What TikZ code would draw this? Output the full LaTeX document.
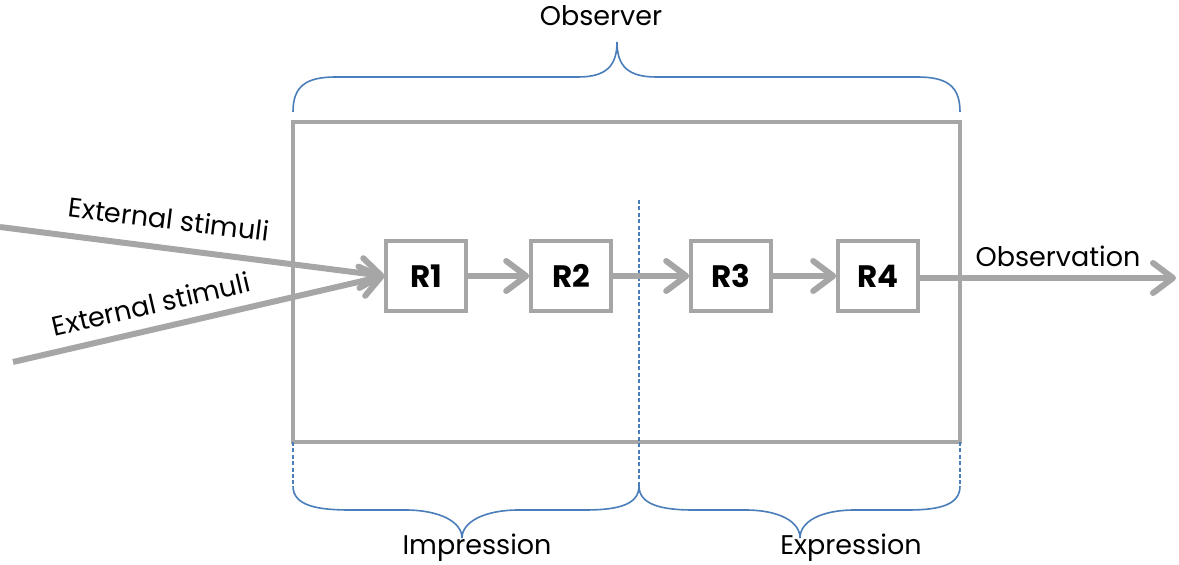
\documentclass[tikz,border=0pt]{standalone}
\usepackage{fontspec}
\setmainfont{Poppins}
\usepackage{tikz}
\usetikzlibrary{arrows.meta}
\definecolor{boxgray}{HTML}{A6A6A6}
\definecolor{braceblue}{HTML}{4A7EBB}
\pgfdeclarelayer{edgelayer}
\pgfdeclarelayer{nodelayer}
\pgfsetlayers{edgelayer,nodelayer,main}

\begin{document}
\begin{tikzpicture}[x=0.5pt,y=-0.5pt,
		reg/.style={draw=boxgray,line width=1.8pt,fill=white,minimum width=40pt,minimum height=35pt,inner sep=0pt,font=\fontsize{15.5}{18}\selectfont\bfseries},
		lbl/.style={font=\fontsize{13.5}{16}\selectfont,inner sep=1pt},
		flow/.style={draw=boxgray,line width=3pt,-{Straight Barb[length=10pt,width=15pt,round]}},
		brace/.style={draw=braceblue,line width=0.8pt},
		guide/.style={draw=braceblue,line width=0.6pt,dash pattern=on 2pt off 1.2pt}]
	\useasboundingbox (0,0) rectangle (1179,565);
	\begin{pgfonlayer}{nodelayer}
		\node[reg] (r1) at (426,276) {R1};
		\node[reg] (r2) at (571,276) {R2};
		\node[reg] (r3) at (731,276) {R3};
		\node[reg] (r4) at (878,276) {R4};
		\coordinate (s1) at (0,227);
		\coordinate (s2) at (13,362);
		\coordinate (obs) at (1176,278);
		\node[lbl] (observer) at (601,16) {Observer};
		\node[lbl] (impression) at (477,548) {Impression};
		\node[lbl] (expression) at (851,548) {Expression};
		\node[lbl] (observation) at (1058,256) {Observation};
		\node[lbl,rotate=-7] (ext1) at (169,219) {External stimuli};
		\node[lbl,rotate=13] (ext2) at (151,304) {External stimuli};
	\end{pgfonlayer}
	\begin{pgfonlayer}{edgelayer}
		\draw[draw=boxgray,line width=2pt] (293,122) rectangle (960,442);
		\draw[guide] (293,442) -- (293,486);
		\draw[guide] (639,200) -- (639,486);
		\draw[guide] (960,442) -- (960,486);
		\draw[brace] (293,112) .. controls (293,86) and (306,77) .. (336,77) -- (578,77) .. controls (606,77) and (617,66) .. (617,42) .. controls (617,66) and (628,77) .. (656,77) -- (917,77) .. controls (947,77) and (960,86) .. (960,112);
		\draw[brace] (293,486) .. controls (293,506) and (318,510) .. (350,510) -- (405,510) .. controls (440,510) and (462,522) .. (462,538) .. controls (462,522) and (484,510) .. (519,510) -- (585,510) .. controls (620,510) and (639,504) .. (639,486);
		\draw[brace] (639,486) .. controls (639,504) and (660,510) .. (693,510) -- (745,510) .. controls (780,510) and (800,522) .. (800,538) .. controls (800,522) and (820,510) .. (855,510) -- (908,510) .. controls (942,510) and (960,504) .. (960,486);
	\end{pgfonlayer}
	\draw[flow] (s1) to (r1.west);
	\draw[flow] (s2) to (r1.west);
	\draw[flow] (r1) to (r2);
	\draw[flow] (r2) to (r3);
	\draw[flow] (r3) to (r4);
	\draw[flow] (r4.east |- obs) to (obs);
\end{tikzpicture}
\end{document}
